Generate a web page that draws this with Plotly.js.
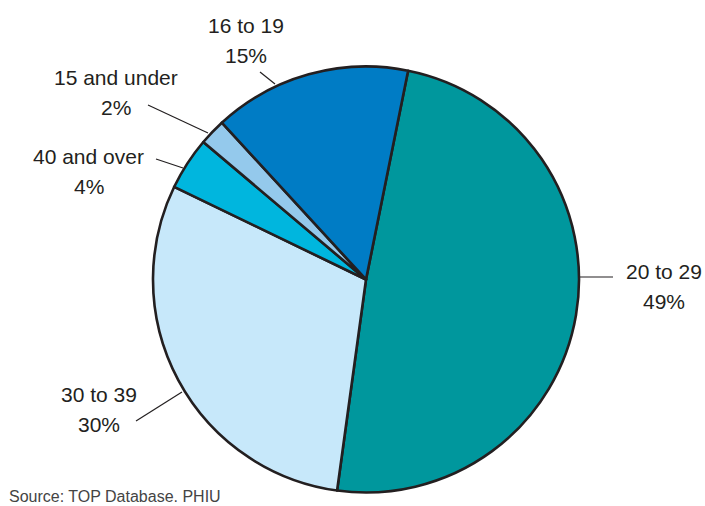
<!DOCTYPE html>
<html>
<head>
<meta charset="utf-8">
<script src="https://cdn.plot.ly/plotly-3.0.1.min.js"></script>
<style>
  html, body { margin: 0; padding: 0; background: #fff; }
  #chart { width: 705px; height: 506px; }
</style>
</head>
<body>
<div id="chart"></div>
<script>
// Age groups, clockwise from just right of 12 o'clock
const groups = ["20 to 29", "30 to 39", "40 and over", "15 and under", "16 to 19"];
const shares = [49, 30, 4, 2, 15];
const colors = ["#00979d", "#c7e8fa", "#00b6de", "#94c9ec", "#007cc5"];
const sourceNote = "Source: TOP Database. PHIU";

// Label placement in page pixels: text centre x, first baseline, leader line (x0,y0)-(x1,y1)
const W = 705, H = 506;
const labelPos = [
  { x: 664, y: 279, line: [580, 277, 613, 277] },
  { x: 99,  y: 402, line: [136, 421, 182, 392] },
  { x: 89,  y: 164, line: [156, 159, 183, 168] },
  { x: 116, y: 85,  line: [148, 105, 208, 133] },
  { x: 246, y: 33,  line: [260, 72, 275, 84] }
];

const FS = 21;
const px = x => x / W;
const py = y => 1 - y / H;
const mid = b => py(b - 0.35 * FS); // baseline -> text middle

const annotations = [];
const shapes = [];
groups.forEach((g, i) => {
  const p = labelPos[i];
  annotations.push({ text: g, x: px(p.x), y: mid(p.y) });
  annotations.push({ text: shares[i] + "%", x: px(p.x), y: mid(p.y + 29.5) });
  const [x0, y0, x1, y1] = p.line;
  shapes.push({
    type: "line", xref: "paper", yref: "paper",
    x0: px(x0), y0: py(y0), x1: px(x1), y1: py(y1),
    line: { color: "#231f20", width: 1.2 }
  });
});
annotations.forEach(a => Object.assign(a, {
  xref: "paper", yref: "paper", xanchor: "center", yanchor: "middle",
  showarrow: false, font: { family: "Liberation Sans, Arial, sans-serif", size: FS, color: "#231f20" }
}));

annotations.push({
  text: sourceNote, xref: "paper", yref: "paper",
  x: px(7), y: py(502 - 0.35 * 16), xanchor: "left", yanchor: "middle",
  showarrow: false, font: { family: "Liberation Sans, Arial, sans-serif", size: 16, color: "#444" }
});

// pie: centre (366, 279.5), radius 213
const cx = 366, cy = 279.5, r = 213;

Plotly.newPlot("chart", [{
  type: "pie",
  labels: groups,
  values: shares,
  sort: false,
  direction: "clockwise",
  rotation: 11.4,
  textinfo: "none",
  hoverinfo: "label+percent",
  marker: { colors: colors, line: { color: "#231f20", width: 2.6 } },
  domain: { x: [px(cx - r), px(cx + r)], y: [py(cy + r), py(cy - r)] }
}], {
  width: W, height: H,
  margin: { l: 0, r: 0, t: 0, b: 0 },
  paper_bgcolor: "#fff",
  showlegend: false,
  annotations: annotations,
  shapes: shapes
}, { displayModeBar: false, staticPlot: true });
</script>
</body>
</html>
